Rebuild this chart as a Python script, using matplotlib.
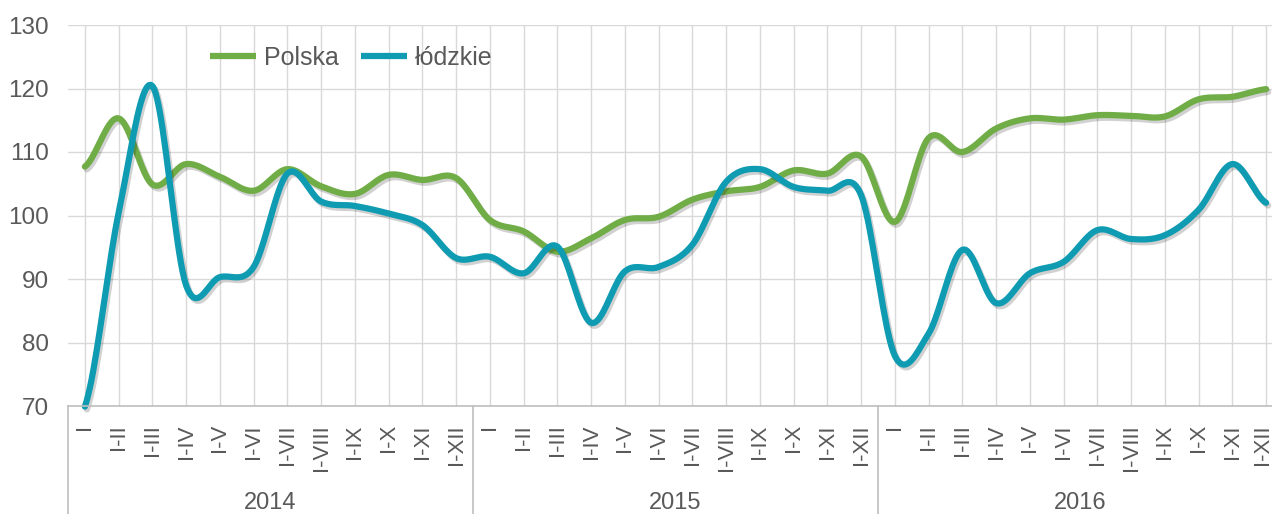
import numpy as np
import matplotlib
matplotlib.use("Agg")
import matplotlib.pyplot as plt
import matplotlib.patheffects as pe
import matplotlib.transforms as mtransforms

plt.rcParams['font.family'] = ['Liberation Sans', 'DejaVu Sans']

# dane
months = ["I", "I-II", "I-III", "I-IV", "I-V", "I-VI", "I-VII", "I-VIII",
          "I-IX", "I-X", "I-XI", "I-XII"]
years = ["2014", "2015", "2016"]
polska = [107.7, 115.3, 104.9, 108.1, 106.1, 103.9, 107.3, 104.6, 103.4, 106.4, 105.6, 105.9,
          99.3, 97.5, 94.3, 96.4, 99.3, 99.8, 102.5, 103.8, 104.5, 107.1, 106.6, 109.3,
          99.0, 112.2, 110.0, 113.7, 115.3, 115.1, 115.8, 115.7, 115.6, 118.3, 118.7, 119.9]
lodzkie = [69.9, 100.4, 120.4, 89.0, 90.3, 91.9, 106.6, 102.2, 101.5, 100.3, 98.5, 93.3,
           93.5, 90.9, 95.1, 83.1, 91.2, 91.9, 95.4, 105.3, 107.3, 104.5, 103.9, 103.2,
           77.9, 81.4, 94.6, 86.2, 90.9, 92.7, 97.7, 96.3, 96.9, 100.9, 108.1, 102.0]
labels = months * len(years)


def smooth(y, n=20):
    # wygładzanie jak w Excelu (Catmull-Rom)
    y = np.asarray(y, float)
    p = np.concatenate([[y[0]], y, [y[-1]]])
    xs, ys = [], []
    for i in range(len(y) - 1):
        p0, p1, p2, p3 = p[i], p[i + 1], p[i + 2], p[i + 3]
        t = np.linspace(0, 1, n, endpoint=False)
        c1 = p1 + (p2 - p0) / 6
        c2 = p2 - (p3 - p1) / 6
        yy = (1 - t) ** 3 * p1 + 3 * (1 - t) ** 2 * t * c1 + 3 * (1 - t) * t ** 2 * c2 + t ** 3 * p2
        xs.append(i + t)
        ys.append(yy)
    xs.append([len(y) - 1])
    ys.append([y[-1]])
    return np.concatenate(xs), np.concatenate(ys)


W, H = 1272, 514
fig = plt.figure(figsize=(W / 100, H / 100), dpi=100)
left, right, top, bottom = 68, 1283, 25, 406
ax = fig.add_axes([left / W, 1 - bottom / H, (right - left) / W, (bottom - top) / H])

n = len(labels)
x = np.arange(n)
ax.set_xlim(-0.5, n - 0.5)
ax.set_ylim(70, 130)
ax.set_yticks(range(70, 131, 10))
ax.set_xticks(x)
ax.set_xticklabels(labels, rotation=90, va='top', ha='center', fontsize=16, color='#595959')
ax.tick_params(axis='x', length=0, pad=13)
ax.tick_params(axis='y', length=0, pad=14, labelsize=17.5, labelcolor='#595959')
ax.grid(True, color='#D9D9D9', lw=1)
ax.set_axisbelow(True)
for s in ['top', 'right', 'left']:
    ax.spines[s].set_visible(False)
ax.spines['bottom'].set_color('#BFBFBF')
ax.spines['bottom'].set_linewidth(1.2)

# ostatnia etykieta lekko w lewo, żeby zmieściła się w obrazku
last = ax.get_xticklabels()[-1]
last.set_transform(last.get_transform() + mtransforms.ScaledTranslation(-4 / 100, 0, fig.dpi_scale_trans))

shadow = [pe.SimpleLineShadow(offset=(1.5, -2), shadow_color='black', alpha=0.18), pe.Normal()]
xs, ys = smooth(polska)
ax.plot(xs, ys, color='#70AD47', lw=4.5, solid_capstyle='round', label='Polska',
        path_effects=shadow, clip_on=False)
xs, ys = smooth(lodzkie)
ax.plot(xs, ys, color='#0F9CB2', lw=4.5, solid_capstyle='round', label='łódzkie',
        path_effects=shadow, clip_on=False)

# podział na lata
trans = mtransforms.blended_transform_factory(ax.transData, ax.transAxes)
for k, yr in enumerate(years):
    ax.plot([k * 12 - 0.5] * 2, [0, -0.3], transform=trans, color='#BFBFBF', lw=1.2, clip_on=False)
    ax.text(k * 12 + 5.5, -0.255, yr, transform=trans, ha='center', va='center',
            fontsize=17, color='#595959')

leg = ax.legend(loc='center left', bbox_to_anchor=(210 / W, 1 - 58 / H),
                bbox_transform=fig.transFigure, ncol=2, frameon=False, fontsize=18,
                handlelength=1.85, handletextpad=0.3, columnspacing=0.9,
                borderpad=0, borderaxespad=0)
for t in leg.get_texts():
    t.set_color('#595959')
for h in leg.get_lines():
    h.set_path_effects([])
    h.set_solid_capstyle('butt')

fig.savefig('out.png', dpi=100)
